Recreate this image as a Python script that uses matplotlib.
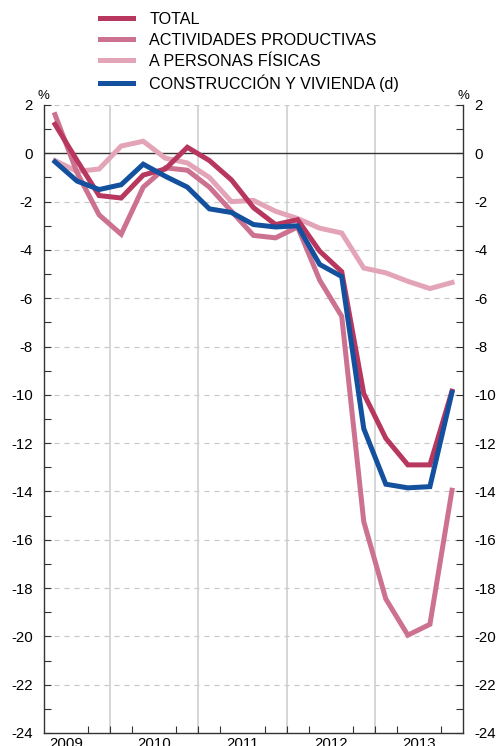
import matplotlib
matplotlib.use("Agg")
import matplotlib.pyplot as plt
from matplotlib.ticker import MultipleLocator, FixedLocator

plt.rcParams['font.family'] = ['Liberation Sans', 'DejaVu Sans']

# quarterly points, 2009 Q2 .. 2013 Q4 (plotted at mid-quarter)
quarters = [2009 + 0.125 + 0.25 * i for i in range(1, 20)]

total = [1.2, -0.3, -1.75, -1.85, -0.9, -0.65, 0.25, -0.3, -1.1, -2.25,
         -2.95, -2.75, -4.05, -4.9, -9.95, -11.8, -12.9, -12.9, -9.85]
actividades = [1.6, -0.8, -2.55, -3.35, -1.4, -0.6, -0.7, -1.4, -2.4, -3.4,
               -3.5, -3.05, -5.25, -6.75, -15.25, -18.45, -19.95, -19.5, -13.95]
personas = [-0.3, -0.75, -0.65, 0.3, 0.5, -0.2, -0.4, -1.0, -2.0, -1.95,
            -2.4, -2.7, -3.1, -3.3, -4.75, -4.95, -5.3, -5.6, -5.35]
construccion = [-0.35, -1.15, -1.5, -1.3, -0.45, -0.95, -1.4, -2.3, -2.45, -2.95,
                -3.05, -3.0, -4.6, -5.1, -11.4, -13.7, -13.85, -13.8, -9.9]

labels = ["TOTAL", "ACTIVIDADES PRODUCTIVAS", "A PERSONAS FÍSICAS",
          "CONSTRUCCIÓN Y VIVIENDA (d)"]
colors = ["#b8375e", "#cd7190", "#e4a4b8", "#13509d"]
years = [2009, 2010, 2011, 2012, 2013]

fig = plt.figure(figsize=(4.97, 7.46), dpi=100)
ax = fig.add_axes([44 / 497, 1 - 733 / 746, 419 / 497, 628 / 746])

x0, x1 = 2009.25, 2014.0
ax.set_xlim(x0, x1)
ax.set_ylim(-24, 2)

# grid
for v in range(-22, 3, 2):
    if v != 0:
        ax.axhline(v, color="#c8c8c8", lw=0.9, ls=(0, (4, 4)), zorder=0)
ax.axhline(0, color="#333333", lw=1.0, zorder=1)
for y in years[1:]:
    ax.axvline(y, color="#d0d0d0", lw=1.2, zorder=0)

series = [personas, actividades, total, construccion]
sc = [colors[2], colors[1], colors[0], colors[3]]
sl = [labels[2], labels[1], labels[0], labels[3]]
handles = {}
for s, c, l in zip(series, sc, sl):
    h, = ax.plot(quarters, s, color=c, lw=3.6, solid_joinstyle="miter", label=l, zorder=3)
    handles[l] = h

ax.spines["top"].set_visible(False)
for side in ["left", "right", "bottom"]:
    ax.spines[side].set_color("#333333")
    ax.spines[side].set_linewidth(1.0)

ax.yaxis.set_minor_locator(MultipleLocator(1))
ax.tick_params(axis="y", which="both", direction="in", left=True, right=True,
               labelleft=True, labelright=True, length=5, width=0.8,
               color="#333333", labelsize=10.8, pad=8)
ax.set_yticks(range(-24, 3, 2))
ax.set_yticklabels([str(v) for v in range(-24, 3, 2)])

ax.xaxis.set_major_locator(FixedLocator([y + 0.5 for y in years]))
ax.set_xticklabels([str(y) for y in years])
ax.xaxis.set_minor_locator(FixedLocator([2009.5 + 0.25 * i for i in range(18)]))
ax.tick_params(axis="x", which="major", length=0, labelsize=10.8, pad=3)
ax.tick_params(axis="x", which="minor", direction="in", length=5, width=0.8,
               color="#333333")

fig.text(43 / 497, 1 - 96 / 746, "%", ha="center", va="center", fontsize=9.5)
fig.text(463 / 497, 1 - 96 / 746, "%", ha="center", va="center", fontsize=9.5)

fig.legend([handles[l] for l in labels], labels, loc="upper left",
           bbox_to_anchor=(100 / 497, 1 - 12 / 746), frameon=False,
           fontsize=11.6, handlelength=2.05, handletextpad=1.0, labelspacing=0.36,
           borderaxespad=0, borderpad=0)

fig.savefig("out.png", dpi=100)
